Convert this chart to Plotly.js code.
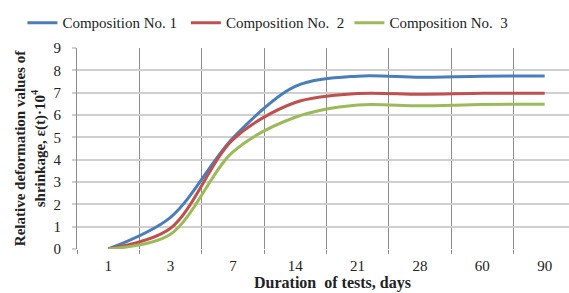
<!DOCTYPE html>
<html>
<head>
<meta charset="utf-8">
<script src="https://cdn.plot.ly/plotly-3.0.1.min.js"></script>
<style>html,body{margin:0;padding:0;background:#fff;}#chart{width:569px;height:293px;}</style>
</head>
<body>
<div id="chart"></div>
<script>
const days = ["1", "3", "7", "14", "21", "28", "60", "90"];
const comp1 = [0, 1.42, 4.97, 7.28, 7.74, 7.69, 7.74, 7.75];
const comp2 = [0, 0.93, 4.9, 6.56, 6.96, 6.93, 6.97, 6.97];
const comp3 = [0, 0.66, 4.35, 5.9, 6.45, 6.41, 6.47, 6.48];
const names = ["Composition No. 1", "Composition No.  2", "Composition No.  3"];
const colors = ["#4a7ebb", "#c0504d", "#9bbb59"];
const series = [comp1, comp2, comp3];

const font = "Liberation Serif";
const traces = series.map((s, i) => ({
  x: days, y: s, name: names[i], type: "scatter", mode: "lines",
  line: {color: colors[i], width: 3, shape: "spline", smoothing: 0.9}
}));

const layout = {
  width: 569, height: 293,
  margin: {l: 76.5, r: 0, t: 48, b: 44, pad: 0},
  paper_bgcolor: "#fff", plot_bgcolor: "#fff",
  font: {family: font, size: 15, color: "#222"},
  showlegend: true,
  legend: {orientation: "h", x: -0.111, xanchor: "left", y: 1.125, yanchor: "middle",
           font: {family: font, size: 15, color: "#222"}, itemwidth: 30, tracegroupgap: 0,
           entrywidth: 118.5, entrywidthmode: "pixels",
           bgcolor: "rgba(0,0,0,0)"},
  xaxis: {type: "category", range: [-0.5, 7.39], tickson: "boundaries",
          showgrid: true, gridcolor: "#8c8c8c", gridwidth: 1,
          ticks: "outside", ticklen: 4, tickcolor: "#8c8c8c",
          showline: false, zeroline: false,
          tickfont: {family: font, size: 15, color: "#222"}, ticklabelstandoff: 6,
          fixedrange: true},
  yaxis: {range: [0, 9], dtick: 1, tick0: 0, showgrid: true, gridcolor: "#cfcfcf", gridwidth: 2,
          ticks: "outside", ticklen: 4, tickcolor: "#cfcfcf", tickwidth: 2,
          showline: true, linecolor: "#8c8c8c", linewidth: 1, zeroline: false,
          tickfont: {family: font, size: 15, color: "#222"}, ticklabelstandoff: 8,
          title: {text: "<b>Relative deformation values of<br>shrinkage, ε(t)·10<sup>4</sup></b>",
                  font: {family: font, size: 15, color: "#222"}, standoff: 4}},
  annotations: [{text: "<b>Duration  of tests, days</b>", xref: "paper", yref: "paper",
                 x: 0.519, y: -0.168, xanchor: "center", yanchor: "middle", showarrow: false,
                 font: {family: font, size: 16, color: "#222"}}]
};
Plotly.newPlot("chart", traces, layout, {displayModeBar: false, staticPlot: true});
</script>
</body>
</html>
